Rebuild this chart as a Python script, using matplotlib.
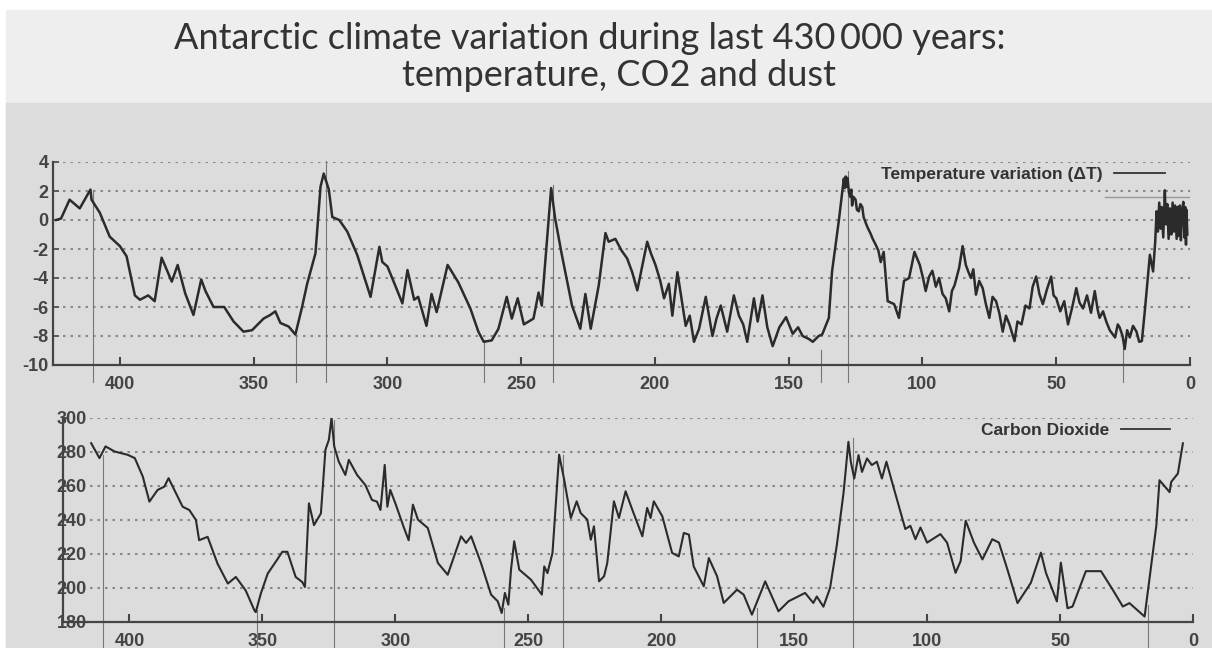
import matplotlib.pyplot as plt
import numpy as np
from matplotlib.patches import Rectangle

# temperature variation (deg C) vs age (kyr BP)
t_age = [423.8, 422, 418.8, 415, 411, 410.6, 407.5, 403.8, 400, 397.5, 394.4, 392.5,
         389.4, 387, 384.4, 380.6, 378.4, 375.6, 372.5, 369.6, 368, 365, 361, 357.5,
         353.8, 350.6, 346.3, 343.8, 341.9, 340, 336.9, 334.4, 331.9, 330, 326.9, 325,
         323.8, 321.9, 320.6, 318, 315, 311.3, 306.3, 303, 301.9, 300, 296.9, 294.4,
         292.5, 290, 288.5, 285.4, 283.5, 281.6, 277.5, 273.5, 269, 266, 264, 261,
         258.5, 255.4, 253.5, 251.3, 249, 245.4, 243.5, 242.3, 240.4, 238.8, 237.3,
         234.8, 231, 227.9, 226, 224, 221, 218.5, 217.3, 214.8, 212.5, 210.4, 208.5,
         206.6, 202.9, 201.5, 199.8, 198, 196.6, 194.8, 193.5, 191.6, 188.5, 187,
         185.4, 183.5, 181, 178.5, 177, 175.4, 173, 170.5, 168.6, 167, 165.5, 163,
         161.6, 159.8, 158, 156, 153.5, 151, 148.5, 146.5, 144.8, 142.5, 141, 138.8,
         137.5, 135, 133.8, 131.3,
         130.2, 129.4, 129.0, 128.7, 128.3, 128.0, 127.5, 127.0, 126.6, 126.3, 125.8, 125.0, 124.5,
         123.8, 123.2, 122.5, 122.0, 121.0, 120.3, 119.5, 118.6, 117.5, 116.5, 115.6, 114.5,
         113, 110.6, 108.8, 106.9, 105, 103, 101,
         99.8, 98.8, 97.5, 96.3, 95, 93.8, 92.5, 91.3, 90, 89, 88, 86.3, 85, 83.8,
         82.8, 81.9, 81, 80, 78.8, 77.5, 76.3, 75, 73.8, 72.5, 71.3, 70, 68.8, 67.5,
         65.6, 64.5, 63, 61.5, 60, 58.8, 57.5, 56.3, 55, 53.5, 51.9, 51, 50, 48.5,
         47, 45.6, 44, 42.5, 41.3, 40, 38.5, 37, 35.6, 34.5, 33.8, 32.5, 31.3, 30,
         28, 27, 26.3, 25.2, 24.4, 23.5, 22.5, 21.3, 20, 19, 18, 16.9, 15.8, 15, 13.8,
         13.0, 12.5, 12.0, 11.5, 11.0, 10.6, 10.0, 9.4, 9.0, 8.5, 8.0, 7.5, 7.0, 6.5,
         6.0, 5.6, 5.0, 4.6, 4.2, 3.8, 3.4, 3.0, 2.5, 2.1, 1.8, 1.5, 1.3, 1.0]
t_val = [0.0, 0.1, 1.4, 0.8, 2.1, 1.4, 0.5, -1.15, -1.8, -2.5, -5.2, -5.5,
         -5.2, -5.6, -2.6, -4.25, -3.1, -5.05, -6.55, -4.1, -4.9, -6.0, -6.0, -7.0,
         -7.7, -7.6, -6.8, -6.55, -6.3, -7.1, -7.35, -7.9, -6.0, -4.4, -2.3, 2.3,
         3.2, 2.1, 0.2, 0.0, -0.8, -2.4, -5.3, -1.85, -2.9, -3.2, -4.6, -5.75,
         -3.45, -5.5, -5.3, -7.3, -5.1, -6.35, -3.1, -4.3, -6.1, -7.7, -8.4, -8.3,
         -7.5, -5.3, -6.8, -5.4, -7.2, -6.8, -5.0, -5.9, -1.5, 2.2, 0.1,
         -2.4, -5.9, -7.5, -5.1, -7.5, -4.5, -0.9, -1.5, -1.3, -2.1, -2.65, -3.6,
         -4.85, -1.5, -2.3, -3.1, -4.2, -5.4, -4.4, -6.6, -3.6, -7.3, -6.6,
         -8.4, -7.5, -5.3, -8.0, -6.8, -5.9, -7.7, -5.2, -6.6, -7.2, -8.4, -5.4,
         -7.0, -5.2, -7.4, -8.7, -7.4, -6.7, -7.85, -7.4, -8.0, -8.2, -8.4, -8.0,
         -7.9, -6.75, -3.55, -0.1,
         1.6, 2.85, 2.2, 3.0, 2.3, 2.9, 1.9, 1.6, 2.1, 1.0, 1.6, 1.4, 0.7,
         0.6, 1.1, 0.9, 0.2, -0.3, -0.6, -0.9, -1.3, -1.7, -2.1, -2.9, -2.2,
         -5.6, -5.8, -6.75, -4.2, -4.0, -2.2, -3.1,
         -4.0, -4.9, -3.9, -3.5, -4.6, -4.0, -5.1, -5.4, -6.3, -4.9, -4.5, -3.3, -1.8, -3.1,
         -3.6, -4.0, -3.4, -5.15, -4.2, -4.7, -5.8, -6.75, -5.3, -5.6, -6.4, -7.7, -6.6, -7.2,
         -8.35, -7.0, -7.2, -5.9, -6.1, -4.6, -3.9, -5.1, -5.8, -4.8, -3.9, -5.2, -5.4, -6.3,
         -5.6, -7.2, -6.0, -4.7, -5.7, -6.1, -5.2, -6.4, -4.9, -6.2, -6.75, -6.3, -7.0, -7.6,
         -8.1, -7.2, -7.4, -8.0, -8.9, -7.6, -8.1, -7.3, -7.7, -8.4, -8.35, -6.3, -4.0, -2.4, -3.55,
         -1.5, 0.6, -0.8, 1.2, -0.6, 0.9, -1.2, 2.05, -0.3, 1.1, -1.3, 0.8, -1.0, 1.2,
         -0.8, 1.0, -1.3, 0.9, -1.1, 1.0, -1.4, 0.6, 1.25, -1.2, 0.9, -1.7, 0.7, -1.0]

# carbon dioxide (ppmv) vs age (kyr BP)
c_age = [414.4, 411.3, 409, 405.6, 400.6, 398, 395, 392.5, 389.4, 386.9, 385.3,
         382.5, 380, 377.5, 375, 373.8, 370.6, 366.9, 363, 360, 356.3, 353, 352.5,
         350.6, 348, 345, 342.5, 340.6, 337.5, 335, 334, 332.5, 330.6, 328, 326.3,
         325, 324, 323, 321.3, 318.8, 317.5, 314.4, 311.3, 308.8, 306.9, 305.6, 304,
         303, 301.9, 300, 296.9, 295, 293.4, 291.5, 287.8, 284, 280.3, 275.3, 273.4,
         271.5, 267.8, 264, 261.5, 260, 258.8, 257.5, 256.5, 255.3, 253.4, 249,
         244.9, 244, 242.8, 240.9, 238.4, 236.5, 234, 231.8, 230.3, 227.8, 226.5,
         225.3, 223.4, 221.5, 220.3, 217.8, 215.9, 213.4, 210.9, 207.1, 205.3, 204,
         202.8, 199.6, 195.9, 193.4, 191.5, 189.6, 187.8, 184, 182.1, 179, 176.5,
         171.5, 169, 165.9, 160.9, 155.9, 152.1, 145.9, 142.8, 141.5, 139, 136.5,
         134, 131.4, 129.6, 128.7, 127.4, 125.8, 124.5, 122.6, 120.8, 118.9, 117,
         115.3, 113.2, 110.7, 108.2, 106.3, 104.4, 102.5, 100, 95, 92.5, 89.3,
         87.4, 85.5, 82.4, 79.2, 75.5, 73, 69.8, 66, 61, 57.2, 55.3, 51.2, 49.7,
         47.2, 45.3, 40.3, 34.6, 30.2, 26.4, 23.9, 18.2, 13.8, 12.6, 8.8, 8.2, 5.7,
         3.8]
c_val = [285.2, 276.4, 283.3, 280.3, 278.3, 276.4, 265.6, 250.8, 257.7, 259.6, 264.6,
         255.7, 247.8, 245.9, 240, 228.1, 230.1, 214.4, 202.6, 206.5, 198.6, 186.8, 185.8,
         196.7, 208.5, 215.4, 221.3, 221.3, 206.5, 203.5, 200.6, 249.8, 237, 243.9, 281.3,
         287.2, 300, 283.3, 274.4, 266.5, 275.4, 266.5, 260.6, 251.8, 250.8, 245.9, 272.4,
         247.8, 257.7, 249.8, 236, 228.1, 249, 240.2, 235.3, 214.7, 207.8, 230.4, 226.5,
         230.4, 214.7, 196.1, 192.2, 185.3, 197.1, 190.2, 210.8, 227.5, 210.8, 204.9,
         196.1, 212.7, 208.8, 220.6, 278.4, 263.7, 241.2, 251, 244.1, 240.2, 228.4,
         236.3, 203.9, 206.9, 214.7, 251, 241.2, 256.9, 246.1, 230.4, 247.1, 241.2,
         251, 242.2, 220.6, 218.6, 232.4, 231.4, 212.7, 201, 217.6, 206.9, 191.2,
         199, 196.1, 184.3, 203.9, 186.3, 192.2, 197.1, 191.2, 195, 189, 200,
         224.8, 256.4, 286, 274.3, 264.4, 278.2, 268.3, 276.2, 272.3, 274.3, 264.4,
         274.3, 262.4, 248.5, 234.7, 236.6, 228.7, 235.6, 226.7, 231.7, 226.7, 208.9,
         215.8, 239.6, 226.7, 216.8, 228.7, 226.7, 210.9, 191.1, 203, 220.8, 208.9, 192.1, 214.9,
         188.1, 189.1, 209.9, 209.9, 199, 189.1, 191.1, 183.2, 236.6, 263.4, 256.4, 262.4, 267.3,
         285.1]

# thin vertical marker lines (age, top value) in each panel
t_marks = [410, 334, 323, 264, 238, 138, 128, 25]
t_tops = [2.1, -7.9, 4.1, -8.3, 2.4, -9.0, 3.4, -8.6]
c_marks = [410, 352, 323, 259, 237, 164, 128, 17]
c_tops = [278, 187, 299, 188, 278, 188, 288, 190]

x_ticks = [400, 350, 300, 250, 200, 150, 100, 50, 0]
t_ticks = [4, 2, 0, -2, -4, -6, -8, -10]
c_ticks = [300, 280, 260, 240, 220, 200, 180]

ink = '#2b2b2b'
tick_font = dict(family='Liberation Sans', weight='bold', size=13)

fig = plt.figure(figsize=(12.12, 6.48), dpi=100)
fig.patch.set_facecolor('white')
# slide and photographed page backgrounds
fig.patches.append(Rectangle((6 / 1212, 0), 1, 1 - 10 / 648, transform=fig.transFigure,
                             color='#eeeeee', zorder=-2))
fig.patches.append(Rectangle((6 / 1212, 0), 1, 1 - 103 / 648, transform=fig.transFigure,
                             color='#dcdcdc', zorder=-1))

fig.text(590 / 1212, 1 - 49 / 648, 'Antarctic climate variation during last 430\u2009000 years:',
         family='Lato', size=26, color='#333333', ha='center', va='baseline')
fig.text(619 / 1212, 1 - 86 / 648, 'temperature, CO2 and dust',
         family='Lato', size=26, color='#333333', ha='center', va='baseline')


def style(ax, yt, ylim, ypad, grid_start):
    ax.set_facecolor('none')
    ax.set_xlim(425, 0)
    ax.set_ylim(*ylim)
    ax.set_xticks(x_ticks)
    ax.set_yticks(yt)
    ax.set_xticklabels([str(v) for v in x_ticks], **tick_font, color='#333333')
    ax.set_yticklabels([str(v) for v in yt], **tick_font, color='#333333')
    for s in ['top', 'right']:
        ax.spines[s].set_visible(False)
    for s in ['left', 'bottom']:
        ax.spines[s].set_color('#444444')
        ax.spines[s].set_linewidth(1.6)
    ax.tick_params(axis='x', direction='in', length=6, width=1.5, pad=8, colors='#444444')
    ax.tick_params(axis='y', direction='in', length=4, width=1.2, pad=ypad, colors='#444444')
    for v in yt[:-1]:
        ax.axhline(v, xmin=grid_start, color='#8a8a8a', lw=1.5, ls=(0, (1.2, 2.4)), zorder=1)


# temperature panel
ax1 = fig.add_axes([53 / 1212, 1 - 365 / 648, 1137 / 1212, 203 / 648])
style(ax1, t_ticks, (-10, 4), 3, 0.009)
ax1.plot(t_age, t_val, color=ink, lw=1.8, zorder=3)
for a, top in zip(t_marks, t_tops):
    ax1.plot([a, a], [top, -11.2], color='#777777', lw=0.8, clip_on=False, zorder=2)
ax1.text(0.923, 0.94, 'Temperature variation (\u0394T)', transform=ax1.transAxes,
         ha='right', va='center', family='Liberation Sans', weight='bold', size=12.5,
         color='#333333')
ax1.plot([0.933, 0.978], [0.945, 0.945], transform=ax1.transAxes, color='#333333', lw=1.3)
ax1.plot([0.925, 1.0], [0.83, 0.83], transform=ax1.transAxes, color='#999999', lw=1.0)

# CO2 panel
ax2 = fig.add_axes([63 / 1212, 1 - 622 / 648, 1130 / 1212, 204 / 648])
style(ax2, c_ticks, (180, 300), -17, 0.024)
ax2.plot(c_age, c_val, color=ink, lw=1.5, zorder=3)
for a, top in zip(c_marks, c_tops):
    ax2.plot([a, a], [top, 162], color='#777777', lw=0.8, clip_on=False, zorder=2)
ax2.text(0.926, 0.94, 'Carbon Dioxide', transform=ax2.transAxes,
         ha='right', va='center', family='Liberation Sans', weight='bold', size=12.5,
         color='#333333')
ax2.plot([0.936, 0.98], [0.945, 0.945], transform=ax2.transAxes, color='#333333', lw=1.3)

fig.savefig('out.png', dpi=100)
